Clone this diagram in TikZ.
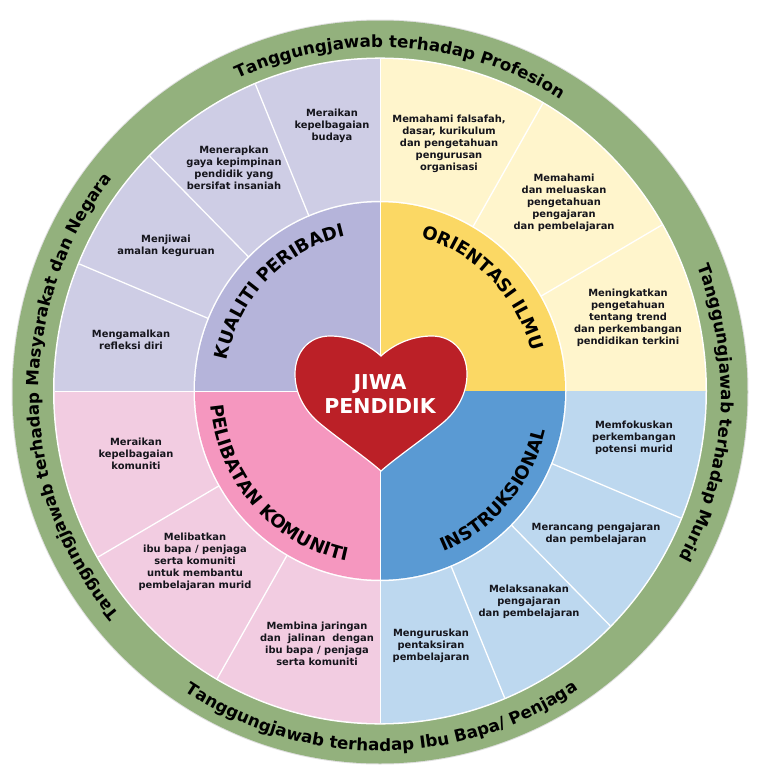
\documentclass[tikz,border=0pt]{standalone}
\usepackage{fontspec}
\setmainfont{DejaVu Sans}
\usetikzlibrary{decorations.text}
\definecolor{ringgreen}{HTML}{93B17D}
\definecolor{lavlight}{HTML}{CECDE5}
\definecolor{lavmid}{HTML}{B5B4DA}
\definecolor{yellight}{HTML}{FFF5CC}
\definecolor{yelmid}{HTML}{FBD864}
\definecolor{bluelight}{HTML}{BDD8EF}
\definecolor{bluemid}{HTML}{5A9AD3}
\definecolor{pinklight}{HTML}{F2CCE1}
\definecolor{pinkmid}{HTML}{F597BF}
\definecolor{heartred}{HTML}{BB2027}
\definecolor{inkdark}{HTML}{15151C}
\newcommand{\ringfont}{\fontsize{16.7}{18}\bfseries\selectfont}
\newcommand{\corefont}{\fontsize{18}{20}\bfseries\selectfont}
% filled sector of the wheel between two angles
\newcommand{\sectorfill}[4]{\fill[#1] (0,0) -- (#2:#4) arc[start angle=#2,end angle=#3,radius=#4] -- cycle;}
% lettering along an arc: font, centre angle, radius, text
\newcommand{\cwlabel}[4]{\path[decorate,decoration={text along path,text align=center,text={|#1|#4}}] (#2+70:#3) arc[start angle=#2+70,end angle=#2-70,radius=#3];}
\newcommand{\ccwlabel}[4]{\path[decorate,decoration={text along path,text align=center,text={|#1|#4}}] (#2-70:#3) arc[start angle=#2-70,end angle=#2+70,radius=#3];}
\tikzset{
  x=1pt,y=1pt,
  itemtext/.style={align=center,font=\fontsize{9.9}{12}\bfseries\selectfont,text=inkdark,inner sep=0pt},
  divider/.style={draw=white,line width=1.3pt},
  seam/.style={draw=white,line width=.8pt}
}
\begin{document}
\begin{tikzpicture}
\useasboundingbox (0,0) rectangle (762,-771);
% outer band
\fill[gray!25] (380,-392) ellipse[x radius=368.5,y radius=372.5];
\fill[ringgreen] (380,-392) ellipse[x radius=367.5,y radius=371.5];
\begin{scope}[shift={(380,-391)},yscale=1.02]
  \fill[white] (0,0) circle[radius=327];
  \sectorfill{yellight}{0}{90}{325.5}
  \sectorfill{lavlight}{90}{180}{325.5}
  \sectorfill{pinklight}{180}{270}{325.5}
  \sectorfill{bluelight}{270}{360}{325.5}
  % spokes of the outer segments
  \foreach \a in {30,60,112.5,135,157.5,210,240,292.5,315,337.5}
    \draw[divider] (\a:185) -- (\a:325.5);
  \foreach \a in {90,180,270}
    \draw[seam] (\a:185) -- (\a:325.5);
  \fill[white] (0,0) circle[radius=186.5];
  \sectorfill{yelmid}{0}{90}{185}
  \sectorfill{lavmid}{90}{180}{185}
  \sectorfill{pinkmid}{180}{270}{185}
  \sectorfill{bluemid}{270}{360}{185}
  \foreach \a in {90,180,270}
    \draw[seam] (0,0) -- (\a:185);
\end{scope}
% band lettering
\begin{scope}[shift={(380,-392)},yscale=1.011]
  \cwlabel{\ringfont}{86.4}{341}{Tanggungjawab terhadap Profesion}
  \cwlabel{\ringfont}{-3.7}{341}{Tanggungjawab terhadap Murid}
  \cwlabel{\ringfont}{181}{341}{Tanggungjawab terhadap Masyarakat dan Negara}
  \ccwlabel{\ringfont}{270.3}{355}{Tanggungjawab terhadap Ibu Bapa/ Penjaga}
\end{scope}
% core lettering
\begin{scope}[shift={(380,-391)},yscale=1.02]
  \cwlabel{\corefont}{135.5}{156}{KUALITI PERIBADI}
  \cwlabel{\corefont}{45}{156}{ORIENTASI ILMU}
  \ccwlabel{\corefont}{222}{170}{PELIBATAN KOMUNITI}
  \ccwlabel{\corefont}{319}{170}{INSTRUKSIONAL}
\end{scope}
% central heart
\draw[fill=heartred,draw=white,line width=1.2pt]
  (381,-356) .. controls (393,-345) and (411,-336) .. (432,-336)
  .. controls (453,-336) and (467,-352) .. (467,-374)
  .. controls (467,-394) and (457,-410) .. (445,-421)
  .. controls (425,-438) and (398,-456) .. (381,-471)
  .. controls (364,-456) and (337,-438) .. (317,-421)
  .. controls (305,-410) and (295,-394) .. (295,-374)
  .. controls (295,-352) and (309,-336) .. (330,-336)
  .. controls (351,-336) and (369,-345) .. (381,-356) -- cycle;
\node[align=center,text=white,inner sep=0pt,font=\fontsize{20.5}{24}\bfseries\selectfont] (jiwa) at (380,-394) {JIWA\\PENDIDIK};
% segment texts
\node[itemtext] (k1) at (332,-126) {Meraikan\\kepelbagaian\\budaya};
\node[itemtext] (k2) at (234,-168) {Menerapkan\\gaya kepimpinan\\pendidik yang\\bersifat insaniah};
\node[itemtext] (k3) at (166,-246) {Menjiwai\\amalan keguruan};
\node[itemtext] (k4) at (131,-340) {Mengamalkan\\refleksi diri};
\node[itemtext] (o1) at (449,-144) {Memahami falsafah,\\dasar, kurikulum\\dan pengetahuan\\pengurusan\\organisasi};
\node[itemtext] (o2) at (564,-203) {Memahami\\dan meluaskan\\pengetahuan\\pengajaran\\dan pembelajaran};
\node[itemtext] (o3) at (628,-318) {Meningkatkan\\pengetahuan\\tentang trend\\dan perkembangan\\pendidikan terkini};
\node[itemtext] (i1) at (634,-438) {Memfokuskan\\perkembangan\\potensi murid};
\node[itemtext] (i2) at (596,-534) {Merancang pengajaran\\dan pembelajaran};
\node[itemtext] (i3) at (529,-602) {Melaksanakan\\pengajaran\\dan pembelajaran};
\node[itemtext] (i4) at (431,-646) {Menguruskan\\pentaksiran\\pembelajaran};
\node[itemtext] (p1) at (136,-454) {Meraikan\\kepelbagaian\\komuniti};
\node[itemtext] (p2) at (195,-562) {Melibatkan\\ibu bapa / penjaga\\serta komuniti\\untuk membantu\\pembelajaran murid};
\node[itemtext] (p3) at (317,-644) {Membina jaringan\\dan\ \ jalinan\ \ dengan\\ibu bapa / penjaga\\serta komuniti};
\end{tikzpicture}
\end{document}
